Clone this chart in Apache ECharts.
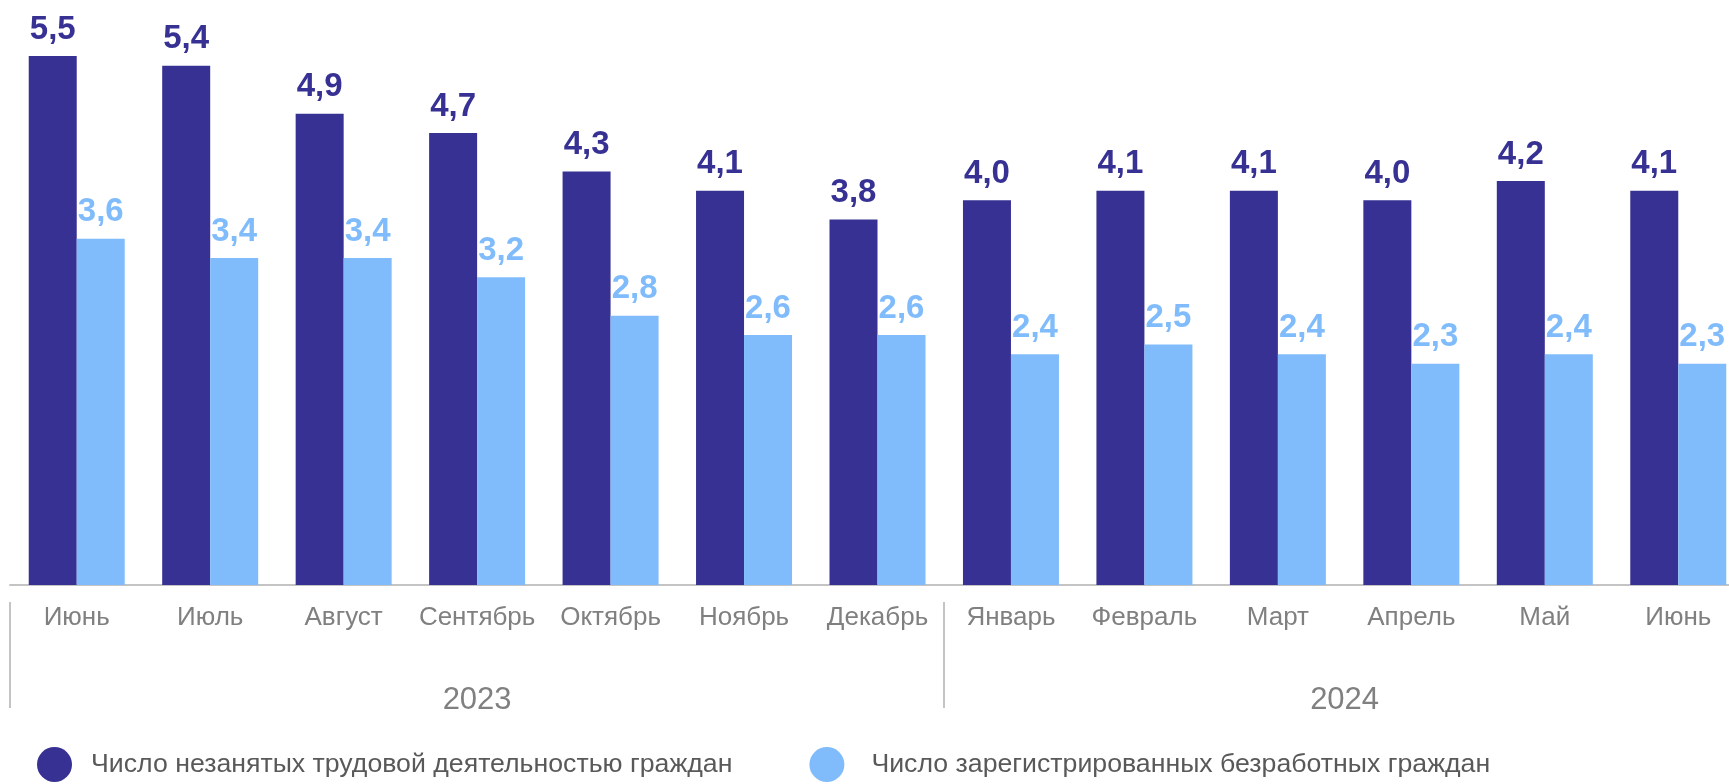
<!DOCTYPE html>
<html>
<head>
<meta charset="utf-8">
<script src="https://cdn.jsdelivr.net/npm/echarts@6/dist/echarts.min.js"></script>
<style>
  html, body { margin: 0; padding: 0; background: #fff; overflow: hidden; }
  /* the plot runs a little past the right edge, as in the original */
  #chart { width: 1745px; height: 784px; }
</style>
</head>
<body>
<div id="chart"></div>
<script>
// Data
const months = ['Июнь', 'Июль', 'Август', 'Сентябрь', 'Октябрь', 'Ноябрь', 'Декабрь',
                'Январь', 'Февраль', 'Март', 'Апрель', 'Май', 'Июнь'];
const years = ['2023', '2024'];
const yearSpans = [7, 6]; // months per year group
const notEmployed = [5.5, 5.4, 4.9, 4.7, 4.3, 4.1, 3.8, 4.0, 4.1, 4.1, 4.0, 4.2, 4.1];
const registered = [3.6, 3.4, 3.4, 3.2, 2.8, 2.6, 2.6, 2.4, 2.5, 2.4, 2.3, 2.4, 2.3];
const seriesNames = ['Число незанятых трудовой деятельностью граждан', 'Число зарегистрированных безработных граждан'];

const darkColor = '#373193';
const lightColor = '#80bcfb';
const font = '"Liberation Sans", Arial, sans-serif';

// Group boundaries and centres for the year axis
const boundaries = [0];
const centres = [];
yearSpans.forEach(function(n) {
    const start = boundaries[boundaries.length - 1];
    centres.push(start + n / 2);
    boundaries.push(start + n);
});

function fmt(v) {
    return v.toFixed(1).replace('.', ',');
}

const chart = echarts.init(document.getElementById('chart'));
const option = {
    animation: false,
    grid: { left: 10, right: 0, top: 8, bottom: 199, containLabel: false },
    legend: {
        left: 37,
        top: 747,
        padding: 0,
        itemWidth: 35,
        itemHeight: 35,
        itemGap: 77,
        icon: 'circle',
        textStyle: { fontFamily: font, fontSize: 26.7, color: '#595959', padding: [0, 0, 0, 14] },
        data: [
            { name: seriesNames[0] },
            // second label sits a bit further from its marker
            { name: seriesNames[1], textStyle: { padding: [0, 0, 0, 22] } }
        ]
    },
    xAxis: [{
        type: 'category',
        data: months,
        axisLine: { lineStyle: { color: '#c4c4c4', width: 2 } },
        axisTick: { show: false },
        axisLabel: { interval: 0, margin: 20, fontFamily: font, fontSize: 26, color: '#808080' }
    }, {
        type: 'value',
        min: 0,
        max: months.length,
        position: 'bottom',
        offset: 17,
        axisLine: { show: false },
        splitLine: { show: false },
        axisTick: {
            show: true,
            customValues: boundaries,
            length: 106,
            lineStyle: { color: '#c4c4c4', width: 2 }
        },
        axisLabel: {
            customValues: centres,
            margin: 83,
            fontFamily: font,
            fontSize: 31,
            color: '#808080',
            formatter: function(v) {
                const i = centres.indexOf(v);
                return i >= 0 ? years[i] : '';
            }
        }
    }],
    yAxis: {
        type: 'value',
        min: 0,
        max: 6,
        show: false,
        splitLine: { show: false }
    },
    series: [{
        name: seriesNames[0],
        type: 'bar',
        data: notEmployed,
        barWidth: 48,
        barGap: '0%',
        itemStyle: { color: darkColor },
        label: {
            show: true, position: 'top', distance: 10,
            fontFamily: font, fontSize: 33, fontWeight: 'bold', color: darkColor,
            formatter: function(p) { return fmt(p.value); }
        }
    }, {
        name: seriesNames[1],
        type: 'bar',
        data: registered,
        barWidth: 48,
        barGap: '0%',
        itemStyle: { color: lightColor },
        label: {
            show: true, position: 'top', distance: 10,
            fontFamily: font, fontSize: 33, fontWeight: 'bold', color: lightColor,
            formatter: function(p) { return fmt(p.value); }
        }
    }]
};
chart.setOption(option);
</script>
</body>
</html>
